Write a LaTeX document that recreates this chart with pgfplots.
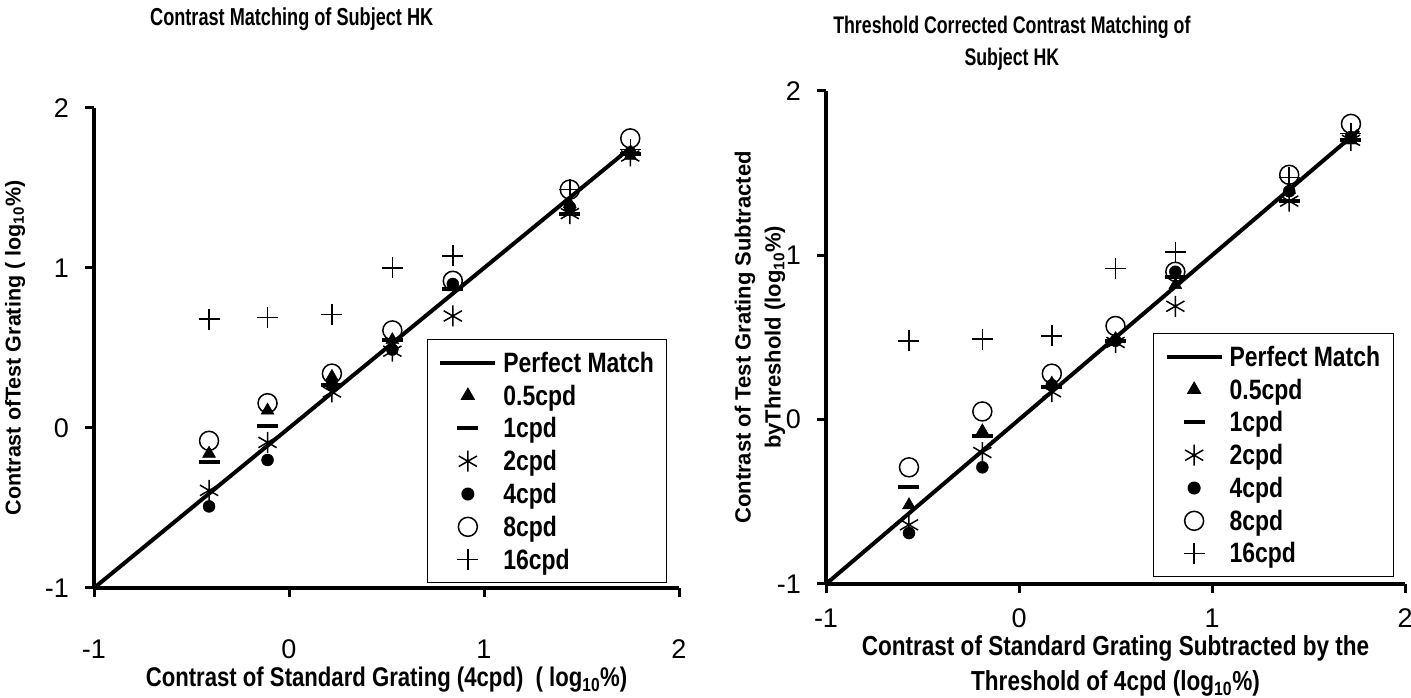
\documentclass[border=0pt]{standalone}
\usepackage{fontspec}
\setmainfont{Liberation Sans}[FakeStretch=0.82]
\newfontfamily\rotfont{Liberation Sans}
\newfontfamily\titfont{Liberation Sans}[FakeStretch=0.74]
\usepackage{pgfplots}
\pgfplotsset{compat=1.18}
\usetikzlibrary{calc}

\pgfplotsset{
  mlegend/.style={legend image code/.code={\draw[mark repeat=2,mark phase=2,##1] plot coordinates {(0pt,0pt) (27.5pt,0pt) (55pt,0pt)};}},
  base/.style={
    scale only axis,
    axis x line*=bottom, axis y line*=left,
    axis line style={line width=4pt,-},
    xmin=-1,xmax=2,ymin=-1,ymax=2,
    xtick={-1,0,1,2}, ytick={-1,0,1,2},
    xticklabels={-1,0,1,2}, yticklabels={-1,0,1,2},
    tick align=outside,
    major tick length=9pt,
    every tick/.style={line width=3pt,black},
    tick label style={font=\rotfont\fontsize{27}{30}\selectfont, inner sep=1pt},
    xticklabel style={anchor=center},
    yticklabel style={anchor=east},
    clip=false,
    legend cell align=left,
    legend style={draw=black, line width=1pt, fill=white, inner xsep=11pt, inner ysep=10pt,
      font=\bfseries\fontsize{28}{30}\selectfont, row sep=7pt,
      /tikz/every odd column/.style={column sep=4pt}},
  },
  tri/.style={only marks, mark=triangle*, mark size=7.5pt, black, mlegend},
  dsh/.style={only marks, mark=-, mark size=10.5pt, black, mark options={line width=4pt}, mlegend},
  ast/.style={only marks, mark=asterisk, mark size=10.5pt, black, mark options={line width=1.5pt}, mlegend},
  dot/.style={only marks, mark=*, mark size=6pt, black, mlegend},
  cir/.style={only marks, mark=o, mark size=9.5pt, black, mark options={line width=1.5pt}, mlegend},
  pls/.style={only marks, mark=+, mark size=10.5pt, black, mark options={line width=1.5pt}, mlegend},
  pm/.style={black, line width=4pt, no marks, legend image code/.code={\draw[line width=4pt] (0pt,0pt) -- (55pt,0pt);}},
}

\begin{document}
\begin{tikzpicture}[x=1pt,y=1pt]
\begin{axis}[base,
  at={(94pt,110pt)}, anchor=south west, width=585pt, height=480pt,
  xticklabel style={yshift=-52pt},
  yticklabel style={xshift=-15pt},
  title={Contrast Matching of Subject HK},
  title style={at={(rel axis cs:0.338,1)}, anchor=center, yshift=83pt, font=\titfont\bfseries\fontsize{24.5}{28}\selectfont},
  xlabel={Contrast of Standard Grating (4cpd)\ \ ( log\textsubscript{10}\%)},
  xlabel style={at={($(rel axis cs:0.5,0)+(0pt,-92pt)$)}, anchor=center, inner sep=1pt, font=\bfseries\fontsize{27}{30}\selectfont},
  ylabel={Contrast ofTest Grating ( log\textsubscript{10}\%)},
  ylabel style={at={($(rel axis cs:0,0.5)+(-79pt,0pt)$)}, anchor=center, inner sep=1pt, font=\rotfont\bfseries\fontsize{21.5}{26}\selectfont},
  legend style={at={(rel axis cs:0.569,0.0104)}, anchor=south west},
]
\addplot[pm] coordinates {(-1,-1) (1.76,1.76)};
\addlegendentry{Perfect Match}
\addplot[tri] coordinates {(-0.41,-0.16) (-0.11,0.11) (0.22,0.32) (0.53,0.55) (0.84,0.88) (1.44,1.40) (1.75,1.70)};
\addlegendentry{0.5cpd}
\addplot[dsh] coordinates {(-0.41,-0.21) (-0.11,0.01) (0.22,0.27) (0.53,0.55) (0.84,0.87) (1.44,1.34) (1.75,1.71)};
\addlegendentry{1cpd}
\addplot[ast] coordinates {(-0.41,-0.39) (-0.11,-0.09) (0.22,0.225) (0.53,0.48) (0.84,0.70) (1.44,1.34) (1.75,1.70)};
\addlegendentry{2cpd}
\addplot[dot] coordinates {(-0.41,-0.49) (-0.11,-0.20) (0.22,0.27) (0.53,0.49) (0.84,0.90) (1.44,1.38) (1.75,1.72)};
\addlegendentry{4cpd}
\addplot[cir] coordinates {(-0.41,-0.08) (-0.11,0.155) (0.22,0.34) (0.53,0.61) (0.84,0.92) (1.44,1.49) (1.75,1.81)};
\addlegendentry{8cpd}
\addplot[pls] coordinates {(-0.41,0.68) (-0.11,0.69) (0.22,0.71) (0.53,1.0) (0.84,1.075) (1.44,1.49) (1.75,1.74)};
\addlegendentry{16cpd}
\end{axis}

\begin{axis}[base,
  at={(826pt,114pt)}, anchor=south west, width=579pt, height=493pt,
  xticklabel style={yshift=-25pt},
  yticklabel style={xshift=-15pt},
  title={Threshold Corrected Contrast Matching of\\Subject HK},
  title style={at={(rel axis cs:0.321,1)}, anchor=center, align=center, yshift=42pt, font=\titfont\bfseries\fontsize{24}{32}\selectfont},
  xlabel={Contrast of Standard Grating Subtracted by the\\Threshold of 4cpd (log\textsubscript{10}\%)},
  xlabel style={at={($(rel axis cs:0.5,0)+(0pt,-82pt)$)}, anchor=center, align=center, inner sep=1pt, font=\bfseries\fontsize{27.5}{35}\selectfont},
  ylabel={Contrast of Test Grating Subtracted\\byThreshold (log\textsubscript{10}\%)},
  ylabel style={at={($(rel axis cs:0,0.5)+(-66pt,0pt)$)}, anchor=center, align=center, inner sep=1pt, font=\rotfont\bfseries\fontsize{22}{30}\selectfont},
  legend style={at={(rel axis cs:0.565,0.0142)}, anchor=south west},
]
\addplot[pm] coordinates {(-1,-1) (1.76,1.76)};
\addlegendentry{Perfect Match}
\addplot[tri] coordinates {(-0.57,-0.52) (-0.19,-0.07) (0.17,0.22) (0.50,0.49) (0.81,0.82) (1.40,1.40) (1.72,1.70)};
\addlegendentry{0.5cpd}
\addplot[dsh] coordinates {(-0.57,-0.41) (-0.19,-0.10) (0.17,0.20) (0.50,0.48) (0.81,0.87) (1.40,1.33) (1.72,1.70)};
\addlegendentry{1cpd}
\addplot[ast] coordinates {(-0.57,-0.64) (-0.19,-0.20) (0.17,0.17) (0.50,0.47) (0.81,0.69) (1.40,1.33) (1.72,1.70)};
\addlegendentry{2cpd}
\addplot[dot] coordinates {(-0.57,-0.69) (-0.19,-0.29) (0.17,0.21) (0.50,0.48) (0.81,0.90) (1.40,1.39) (1.72,1.72)};
\addlegendentry{4cpd}
\addplot[cir] coordinates {(-0.57,-0.29) (-0.19,0.05) (0.17,0.28) (0.50,0.57) (0.81,0.90) (1.40,1.49) (1.72,1.80)};
\addlegendentry{8cpd}
\addplot[pls] coordinates {(-0.57,0.48) (-0.19,0.49) (0.17,0.51) (0.50,0.92) (0.81,1.02) (1.40,1.475) (1.72,1.74)};
\addlegendentry{16cpd}
\end{axis}
\pgfresetboundingbox
\path[use as bounding box] (0pt,0pt) rectangle (1411pt,698pt);
\end{tikzpicture}
\end{document}
